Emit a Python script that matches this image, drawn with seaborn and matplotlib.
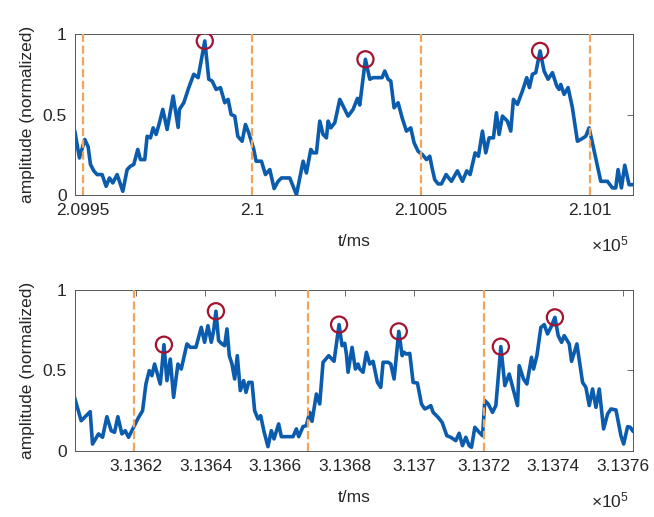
import matplotlib
matplotlib.use("Agg")
import matplotlib.pyplot as plt
import numpy as np
import seaborn as sns

# time offsets (ms) from base, amplitudes
base_top = 209950.0
t_top = [-2.47, -1.09, 0.49, 1.48, 2.17, 3.16, 4.14, 5.62, 6.8, 7.79, 8.78, 10.06, 11.74, 13.02, 14.0,
         14.99, 16.17, 16.96, 18.24, 18.93, 19.92, 20.71, 21.6, 22.58, 23.57, 24.85, 26.63, 28.11, 28.5,
         29.78, 31.26, 32.74, 34.02, 36.0, 37.18, 38.17, 39.35, 40.63, 41.91, 42.9, 43.79, 44.87, 45.76,
         47.04, 48.03, 49.01, 50.49, 51.18, 52.76, 53.94, 55.23, 56.51, 57.69, 58.68, 61.14, 63.12, 65.09,
         66.07, 67.36, 68.05, 69.03, 70.02, 71.0, 71.99, 72.49, 73.27, 74.46, 75.94, 76.92, 78.4, 79.88,
         81.16, 81.85, 83.53, 84.81, 85.8, 88.46, 89.25, 90.24, 91.03, 92.01, 93.2, 94.38, 95.66, 96.94,
         97.93, 99.11, 100.39, 101.58, 102.56, 103.25, 104.04, 105.03, 106.01, 107.4, 108.97, 110.75,
         112.23, 113.51, 114.5, 115.98, 116.96, 118.15, 119.13, 120.12, 121.4, 122.29, 123.08, 124.06,
         125.54, 126.53, 127.32, 128.5, 129.98, 131.26, 132.05, 132.94, 133.93, 135.21, 136.39, 137.57,
         138.86, 140.14, 140.83, 141.32, 142.31, 143.49, 144.77, 146.25, 147.24, 148.72, 149.7, 150.69,
         153.16, 155.13, 156.61, 157.59, 158.28, 159.27, 160.26, 161.54, 162.6]
a_top = [0.397, 0.23, 0.345, 0.30, 0.19, 0.15, 0.127, 0.127, 0.054, 0.106, 0.075, 0.127, 0.023, 0.158, 0.179,
         0.19, 0.283, 0.22, 0.22, 0.365, 0.355, 0.417, 0.376, 0.449, 0.532, 0.407, 0.615, 0.42, 0.532,
         0.573, 0.667, 0.75, 0.729, 0.957, 0.719, 0.708, 0.656, 0.667, 0.573, 0.594, 0.5, 0.49, 0.365,
         0.334, 0.438, 0.386, 0.283, 0.21, 0.21, 0.127, 0.158, 0.04, 0.085, 0.106, 0.106, 0.002, 0.21,
         0.137, 0.283, 0.262, 0.262, 0.459, 0.376, 0.355, 0.459, 0.417, 0.449, 0.594, 0.552, 0.49, 0.532,
         0.6, 0.559, 0.843, 0.719, 0.729, 0.729, 0.77, 0.719, 0.708, 0.542, 0.573, 0.48, 0.397, 0.417,
         0.324, 0.272, 0.251, 0.22, 0.241, 0.168, 0.095, 0.069, 0.069, 0.127, 0.085, 0.15,
         0.085, 0.15, 0.127, 0.262, 0.241, 0.397, 0.262, 0.355, 0.355, 0.511, 0.376, 0.49,
         0.459, 0.397, 0.594, 0.563, 0.646, 0.729, 0.667, 0.75, 0.76, 0.895, 0.77, 0.719,
         0.76, 0.677, 0.656, 0.687, 0.625, 0.667, 0.542, 0.334, 0.345, 0.365, 0.417, 0.324,
         0.085, 0.085, 0.044, 0.044, 0.158, 0.044, 0.185, 0.064, 0.064]
peaks_top = [36.0, 83.53, 135.21]
bounds_top = [0.0, 50.0, 100.0, 150.0]
ticks_top = [209950, 210000, 210050, 210100]
xlim_top = (-2.4, 162.7)

base_bot = 313620.0
t_bot = [-17.64, -15.73, -13.14, -12.47, -10.74, -9.59, -8.34, -7.1, -6.14, -5.18, -4.03, -3.07, -2.11,
         -0.67, 0.77, 1.92, 2.88, 3.84, 4.6, 5.37, 6.33, 7.0, 7.48, 8.06, 8.92, 9.88, 10.84, 12.08, 13.04,
         14.67, 15.63, 17.26, 18.79, 19.75, 20.71, 21.67, 22.34, 23.01, 23.78, 24.74, 25.51, 26.18, 26.85,
         27.62, 28.39, 29.15, 30.01, 30.97, 31.65, 32.41, 33.37, 34.14, 35.1, 35.87, 36.82, 37.97, 38.93,
         39.7, 41.04, 41.81, 45.17, 46.13, 46.8, 48.04, 49.0, 49.96, 50.63, 51.88, 52.84, 53.8, 55.43,
         56.96, 58.4, 59.26, 60.03, 60.51, 60.99, 62.14, 63.1, 63.87, 64.35, 65.3, 66.26, 67.22, 68.18,
         69.43, 70.39, 71.06, 72.5, 73.26, 74.22, 75.57, 76.53, 77.1, 77.77, 78.73, 79.69, 80.93, 82.09,
         83.05, 84.0, 84.77, 85.44, 86.88, 88.03, 89.38, 90.53, 91.96, 92.92, 93.88, 94.84, 95.8, 96.47,
         97.43, 98.68, 99.64, 100.31, 101.27, 102.51, 103.47, 104.91, 106.06, 107.31, 108.55, 109.7,
         110.18, 111.43, 112.39, 113.73, 114.31, 115.27, 116.42, 117.38, 118.33, 119.29, 120.45, 121.4,
         122.36, 123.13, 124.57, 125.24, 126.77, 128.4, 129.36, 130.32, 131.28, 132.24, 133.2, 134.44,
         135.6, 136.56, 138.0, 139.43, 140.2, 141.35, 142.12, 142.9]
a_bot = [0.333, 0.188, 0.244, 0.043, 0.106, 0.085, 0.213, 0.126, 0.116, 0.213, 0.106, 0.126, 0.085,
         0.147, 0.209, 0.25, 0.416, 0.499, 0.468, 0.54, 0.468, 0.416, 0.52, 0.66, 0.437, 0.571, 0.333, 0.54, 0.509,
         0.665, 0.644, 0.644, 0.768, 0.675, 0.778, 0.675, 0.747, 0.868, 0.685, 0.665, 0.654, 0.758, 0.592,
         0.54, 0.447, 0.592, 0.375, 0.437, 0.364, 0.426, 0.426, 0.25, 0.199, 0.219, 0.121, 0.027, 0.126,
         0.075, 0.168, 0.089, 0.089, 0.137, 0.089, 0.151, 0.158, 0.24, 0.184, 0.354, 0.292, 0.551, 0.592,
         0.557, 0.785, 0.654, 0.669, 0.602, 0.489, 0.644, 0.509, 0.54, 0.509, 0.489, 0.613, 0.54, 0.557,
         0.426, 0.395, 0.551, 0.551, 0.54, 0.447, 0.743, 0.592, 0.613, 0.602, 0.606, 0.426, 0.422, 0.292,
         0.261, 0.271, 0.282, 0.24, 0.209, 0.178, 0.095, 0.085, 0.064, 0.11, 0.033, 0.085, 0.033, 0.023,
         0.147, 0.116, 0.095, 0.313, 0.292, 0.24, 0.282, 0.648, 0.406, 0.478, 0.375, 0.282,
         0.53, 0.447, 0.416, 0.582, 0.509, 0.592, 0.768, 0.785, 0.727, 0.768, 0.83, 0.716,
         0.675, 0.716, 0.665, 0.557, 0.665, 0.426, 0.395, 0.282, 0.385, 0.271, 0.385, 0.137,
         0.23, 0.261, 0.255, 0.095, 0.043, 0.151, 0.147, 0.122]
peaks_bot = [8.06, 23.01, 58.4, 75.57, 104.91, 120.45]
bounds_bot = [-0.6, 49.5, 100.1]
ticks_bot = [313620, 313640, 313660, 313680, 313700, 313720, 313740, 313760]
xlim_bot = (-17.5, 142.9)

LINE = '#0B5CAD'
PEAK = '#A2142F'
BOUND = '#F4A35A'
AXC = '#555555'

sns.set_style('white')
plt.rcParams['font.family'] = ['Liberation Sans', 'DejaVu Sans']
plt.rcParams['mathtext.fontset'] = 'custom'
plt.rcParams['mathtext.rm'] = 'Liberation Sans'

fig = plt.figure(figsize=(6.54, 5.17), dpi=100)
ax1 = fig.add_axes([0.1147, 0.6228, 0.8532, 0.3114])
ax2 = fig.add_axes([0.1147, 0.1277, 0.8532, 0.3114])


def draw(ax, base, t, a, peaks, bounds, ticks, xlim):
    t = base + np.array(t)
    a = np.array(a)
    sns.lineplot(x=t, y=a, ax=ax, color=LINE, lw=2.6, estimator=None, sort=False, zorder=2)
    pt = base + np.array(peaks)
    # 峰值标记
    sns.scatterplot(x=pt, y=np.interp(pt, t, a), ax=ax, marker='o', s=135,
                    facecolor='none', edgecolor=PEAK, linewidth=1.6, zorder=4)
    for b in bounds:
        ax.axvline(base + b, color=BOUND, ls='--', lw=1.6, zorder=3)
    ax.set_xlim(base + xlim[0], base + xlim[1])
    ax.set_ylim(0, 1)
    ax.set_xticks(ticks)
    ax.set_xticklabels(['%g' % (v / 1e5) for v in ticks])
    ax.set_yticks([0, 0.5, 1])
    ax.set_yticklabels(['0', '0.5', '1'])
    ax.tick_params(direction='in', top=True, right=True, length=4, width=0.6,
                   color=AXC, labelsize=12.5, labelcolor='#262626', pad=6)
    for s in ax.spines.values():
        s.set_color(AXC)
        s.set_linewidth(0.7)
        s.set_visible(True)
    ax.set_xlabel('t/ms', fontsize=12.5, color='#262626')
    ax.set_ylabel('amplitude (normalized)', fontsize=12.5, color='#262626')
    ax.xaxis.set_label_coords(0.5, -0.245)
    ax.yaxis.set_label_coords(-0.072, 0.5)
    ax.text(0.993, -0.31, r'$\mathregular{\times10^{5}}$', transform=ax.transAxes,
            ha='right', va='center', fontsize=12.5, color='#262626')


draw(ax1, base_top, t_top, a_top, peaks_top, bounds_top, ticks_top, xlim_top)
draw(ax2, base_bot, t_bot, a_bot, peaks_bot, bounds_bot, ticks_bot, xlim_bot)

fig.savefig('out.png', dpi=100)
